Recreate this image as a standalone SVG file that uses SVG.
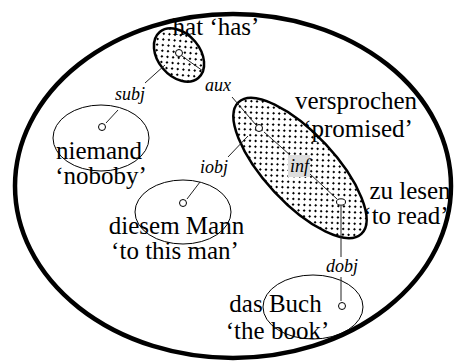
<svg xmlns="http://www.w3.org/2000/svg" width="454" height="364" viewBox="0 0 454 364">
<defs>
<pattern id="dots" width="8" height="8" patternUnits="userSpaceOnUse">
<rect width="8" height="8" fill="#fff"/>
<rect x="1" y="1" width="2" height="2" fill="#000"/>
<rect x="5" y="5" width="2" height="2" fill="#000"/>
</pattern>
</defs>
<style>
.word{font-family:"Liberation Serif","Times New Roman",serif;font-size:25px;fill:#000;text-anchor:middle}
.lab{font-family:"Liberation Serif","Times New Roman",serif;font-size:18px;font-style:italic;fill:#000;text-anchor:middle}
.thin{fill:none;stroke:#000;stroke-width:1}
.bold{fill:url(#dots);stroke:#000;stroke-width:2.5}
.node{fill:#fff;stroke:#000;stroke-width:1}
.edge{stroke:#222;stroke-width:1;fill:none}
</style>
<rect width="454" height="364" fill="#fff"/>
<ellipse id="outer" cx="233" cy="186" rx="218" ry="172" fill="none" stroke="#000" stroke-width="4.5"/>
<g id="hat">
<ellipse class="bold" cx="0" cy="0" rx="30" ry="21" transform="translate(179,55) rotate(50)"/>
</g>
<g id="versprochen">
<ellipse class="bold" cx="0" cy="0" rx="90" ry="35" transform="translate(300,168) rotate(47)"/>
</g>
<g id="niemand">
<ellipse class="thin" cx="101" cy="138" rx="48" ry="33"/>
</g>
<g id="diesem-mann">
<ellipse class="thin" cx="183" cy="212" rx="48" ry="32"/>
</g>
<g id="das-buch">
<ellipse class="thin" cx="313" cy="307" rx="50" ry="32"/>
</g>
<g id="connectors">
<path class="edge" d="M165,65 L145,83 M118,110 L106,123"/>
<path class="edge" d="M182,56 L203,71 M232,97 L256,125"/>
<path class="edge" d="M187,199 L200,182 M228,157 L248,136"/>
<path class="edge" d="M264,132 L290,155 M310,174 L337,199"/>
<path class="edge" d="M341,206 L341,257 M341,277 L341,301"/>
<rect x="288" y="155" width="22" height="22" fill="#ddd"/>
<text class="lab" x="130" y="100">subj</text>
<text class="lab" x="218" y="91">aux</text>
<text class="lab" x="214" y="173">iobj</text>
<text class="lab" x="299.5" y="172">inf</text>
<text class="lab" x="342" y="272">dobj</text>
</g>
<g id="nodes">
<circle class="node" cx="179" cy="53" r="3.5"/>
<circle class="node" cx="102" cy="127" r="3.5"/>
<circle class="node" cx="259" cy="128" r="3.5"/>
<ellipse class="node" cx="341" cy="202" rx="4.5" ry="3.2"/>
<circle class="node" cx="183" cy="203" r="3.5"/>
<circle class="node" cx="342" cy="306" r="3.5"/>
</g>
<g id="texts">
<text class="word" x="216" y="35">hat ‘has’</text>
<text class="word" x="99" y="159">niemand</text>
<text class="word" x="101" y="184">‘noboby’</text>
<text class="word" x="356" y="109">versprochen</text>
<text class="word" x="358" y="137">‘promised’</text>
<text class="word" x="410" y="199">zu lesen</text>
<text class="word" x="406" y="224">‘to read’</text>
<text class="word" x="176.5" y="234">diesem Mann</text>
<text class="word" x="175" y="259">‘to this man’</text>
<text class="word" x="275.5" y="312">das Buch</text>
<text class="word" x="277.5" y="339">‘the book’</text>
</g>
</svg>
